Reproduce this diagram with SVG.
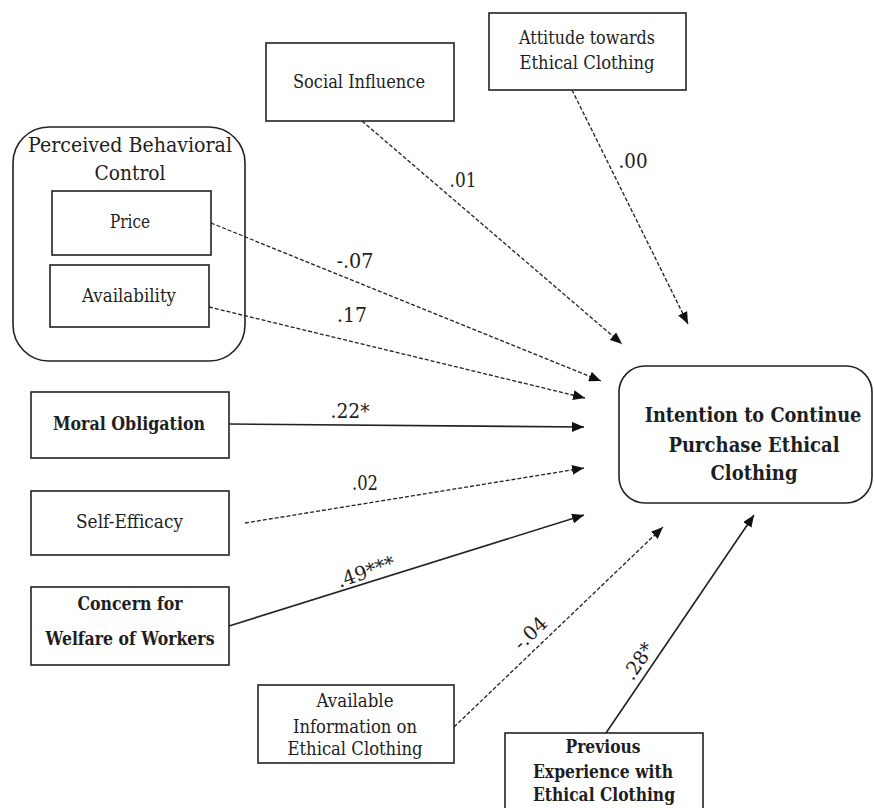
<svg xmlns="http://www.w3.org/2000/svg" width="874" height="808" viewBox="0 0 874 808">
  <style>
    .box { fill: #fff; stroke: #222; stroke-width: 1.6; }
    .rbox { fill: none; stroke: #222; stroke-width: 1.6; }
    text { font-family: "DejaVu Serif", "Liberation Serif", serif; fill: #1e1e1e; text-anchor: middle; }
    .t { font-size: 18px; }
    .b { font-weight: bold; }
    .big { font-size: 21px; }
    .ttl { font-size: 21px; }
    .lbl { font-size: 19.5px; }
    .solid { stroke: #222; stroke-width: 1.6; fill: none; marker-end: url(#ah); }
    .dash { stroke: #222; stroke-width: 1.3; fill: none; stroke-dasharray: 4 2; marker-end: url(#ah); }
  </style>
  <defs>
    <marker id="ah" viewBox="0 0 12 10" refX="12" refY="5" markerWidth="12" markerHeight="10" markerUnits="userSpaceOnUse" orient="auto">
      <path d="M0,0 L12,5 L0,10 z" fill="#111"/>
    </marker>
  </defs>
  <rect width="874" height="808" fill="#fff"/>

  <!-- predictor -> outcome paths -->
  <g id="connectors">
    <line class="dash" x1="362" y1="121" x2="622" y2="344"/>
    <line class="dash" x1="572" y1="90" x2="688" y2="324"/>
    <line class="dash" x1="211" y1="223" x2="601" y2="381"/>
    <line class="dash" x1="209" y1="307" x2="585" y2="398"/>
    <line class="solid" x1="229" y1="424" x2="584" y2="427"/>
    <line class="dash" x1="245" y1="523" x2="584" y2="468"/>
    <line class="solid" x1="229" y1="626" x2="584" y2="515"/>
    <line class="dash" x1="454" y1="727" x2="663" y2="527"/>
    <line class="solid" x1="606" y1="733" x2="754" y2="515"/>

    <text class="lbl" x="463" y="187" textLength="27" lengthAdjust="spacingAndGlyphs">.01</text>
    <text class="lbl" x="633" y="168" textLength="29" lengthAdjust="spacingAndGlyphs">.00</text>
    <text class="lbl" x="355" y="268" textLength="37" lengthAdjust="spacingAndGlyphs">-.07</text>
    <text class="lbl" x="352" y="322" textLength="30" lengthAdjust="spacingAndGlyphs">.17</text>
    <text class="lbl" x="350" y="418" textLength="39" lengthAdjust="spacingAndGlyphs">.22*</text>
    <text class="lbl" x="365" y="490" textLength="26" lengthAdjust="spacingAndGlyphs">.02</text>
    <text class="lbl" transform="translate(368,578) rotate(-19)" textLength="60" lengthAdjust="spacingAndGlyphs">.49***</text>
    <text class="lbl" transform="translate(535,638) rotate(-44)" textLength="38" lengthAdjust="spacingAndGlyphs">-.04</text>
    <text class="lbl" transform="translate(644,665) rotate(-56)" textLength="40" lengthAdjust="spacingAndGlyphs">.28*</text>
  </g>

  <g id="social-influence">
    <rect class="box" x="266" y="43" width="188" height="78"/>
    <text class="t" x="359" y="88" textLength="132" lengthAdjust="spacingAndGlyphs">Social Influence</text>
  </g>

  <g id="attitude">
    <rect class="box" x="489" y="13" width="197" height="77"/>
    <text class="t" x="587" y="44" textLength="136" lengthAdjust="spacingAndGlyphs">Attitude towards</text>
    <text class="t" x="587" y="69" textLength="135" lengthAdjust="spacingAndGlyphs">Ethical Clothing</text>
  </g>

  <g id="perceived-behavioral-control">
    <rect class="rbox" x="13" y="127" width="232" height="234" rx="36" ry="36"/>
    <text class="ttl" x="130" y="152" textLength="204" lengthAdjust="spacingAndGlyphs">Perceived Behavioral</text>
    <text class="ttl" x="130" y="180" textLength="71" lengthAdjust="spacingAndGlyphs">Control</text>
  </g>

  <g id="price">
    <rect class="box" x="52" y="191" width="159" height="64"/>
    <text class="t" x="130" y="228" textLength="40" lengthAdjust="spacingAndGlyphs">Price</text>
  </g>

  <g id="availability">
    <rect class="box" x="50" y="265" width="159" height="62"/>
    <text class="t" x="129" y="302" textLength="94" lengthAdjust="spacingAndGlyphs">Availability</text>
  </g>

  <g id="moral-obligation">
    <rect class="box" x="31" y="392" width="198" height="66"/>
    <text class="t b" x="129" y="430" textLength="152" lengthAdjust="spacingAndGlyphs">Moral Obligation</text>
  </g>

  <g id="self-efficacy">
    <rect class="box" x="31" y="491" width="198" height="64"/>
    <text class="t" x="129.5" y="528" textLength="107" lengthAdjust="spacingAndGlyphs">Self-Efficacy</text>
  </g>

  <g id="concern-welfare">
    <rect class="box" x="31" y="587" width="198" height="78"/>
    <text class="t b" x="130" y="610" textLength="105" lengthAdjust="spacingAndGlyphs">Concern for</text>
    <text class="t b" x="130" y="645" textLength="169" lengthAdjust="spacingAndGlyphs">Welfare of Workers</text>
  </g>

  <g id="available-information">
    <rect class="box" x="258" y="685" width="196" height="78"/>
    <text class="t" x="355" y="707" textLength="77" lengthAdjust="spacingAndGlyphs">Available</text>
    <text class="t" x="355" y="733" textLength="124" lengthAdjust="spacingAndGlyphs">Information on</text>
    <text class="t" x="355" y="755" textLength="135" lengthAdjust="spacingAndGlyphs">Ethical Clothing</text>
  </g>

  <g id="previous-experience">
    <rect class="box" x="505" y="733" width="198" height="90"/>
    <text class="t b" x="603" y="753" textLength="75" lengthAdjust="spacingAndGlyphs">Previous</text>
    <text class="t b" x="603" y="778" textLength="140" lengthAdjust="spacingAndGlyphs">Experience with</text>
    <text class="t b" x="604" y="801" textLength="142" lengthAdjust="spacingAndGlyphs">Ethical Clothing</text>
  </g>

  <g id="intention">
    <rect class="rbox" x="619" y="366" width="253" height="137" rx="26" ry="26"/>
    <!-- horizontally condensed bold heading -->
    <text class="b big" transform="translate(753,422) scale(0.75,1)" textLength="289" lengthAdjust="spacingAndGlyphs">Intention to Continue</text>
    <text class="b big" transform="translate(754,452) scale(0.75,1)" textLength="228" lengthAdjust="spacingAndGlyphs">Purchase Ethical</text>
    <text class="b big" transform="translate(754,480) scale(0.75,1)" textLength="116" lengthAdjust="spacingAndGlyphs">Clothing</text>
  </g>
</svg>
